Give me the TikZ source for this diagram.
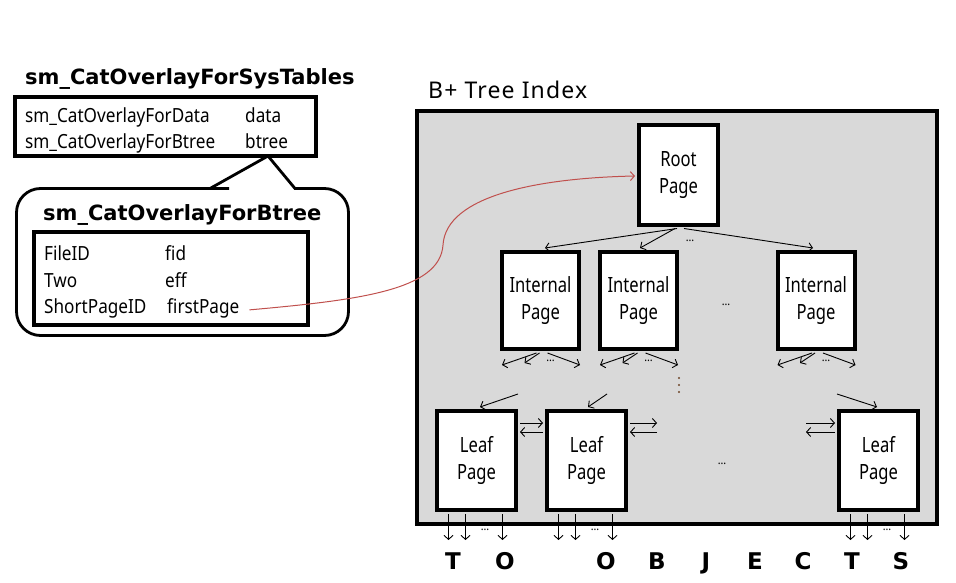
\documentclass[tikz,border=0pt]{standalone}
\usepackage{fontspec}
\setmainfont{Noto Sans}[FakeStretch=0.88]
\newfontfamily\widefont{Noto Sans}[LetterSpace=5]
\newfontfamily\pgfont{Noto Sans}[FakeStretch=0.79]
\newfontfamily\bfam{DejaVu Sans Bold}
\usetikzlibrary{arrows.meta,calc}
\definecolor{grayfill}{RGB}{217,217,217}
\definecolor{linkred}{RGB}{192,80,77}
\definecolor{dotbrown}{RGB}{110,70,40}
\tikzset{
  pg/.style={draw, line width=4pt, fill=white, inner sep=0pt, align=center,
    minimum width=79pt, minimum height=99pt, font=\pgfont\fontsize{21}{27.5}\selectfont},
  arr/.style={-{Straight Barb[length=4pt,width=9pt]}, line width=0.9pt},
  txt/.style={anchor=base west, inner sep=0pt, font=\fontsize{19.5}{22}\selectfont},
  ttl/.style={anchor=base west, inner sep=0pt, font=\bfam\fontsize{21}{24}\selectfont},
  lbl/.style={anchor=base, inner sep=0pt, font=\bfam\fontsize{23}{26}\selectfont},
  dts/.style={inner sep=0pt, font=\fontsize{12}{14}\selectfont},
  tbox/.style={draw, line width=4pt, fill=white, inner sep=0pt},
}
\begin{document}
\begin{tikzpicture}[x=1pt,y=-1pt]
\useasboundingbox (0,0) rectangle (956,583);

% ---------- left: catalog overlay ----------
\node[ttl] (t1) at (25,85) {sm\_CatOverlayForSysTables};

% callout
\draw[line width=2.8pt, fill=white] (210,188.5) -- (268,156) -- (295,188.5) -- (300,188.5)
  [rounded corners=24pt] -- (348.5,188.5) -- (348.5,335.5) -- (16.5,335.5) -- (16.5,188.5) -- (205,188.5)
  [sharp corners] -- (210,188.5) -- cycle;

\node[tbox, minimum width=301pt, minimum height=59pt] (box1) at (165.5,126.5) {};
\node[txt] (r1a) at (25,123) {sm\_CatOverlayForData};
\node[txt] (r1b) at (245,123) {data};
\node[txt] (r2a) at (25,149) {sm\_CatOverlayForBtree};
\node[txt] (r2b) at (245,149) {btree};

\node[ttl] (t2) at (43,220) {sm\_CatOverlayForBtree};
\node[tbox, minimum width=274pt, minimum height=93pt] (box2) at (171,278.5) {};
\node[txt] (f1a) at (44,260) {FileID};
\node[txt] (f1b) at (165,260) {fid};
\node[txt] (f2a) at (44,287) {Two};
\node[txt] (f2b) at (165,287) {eff};
\node[txt] (f3a) at (44,313) {ShortPageID};
\node[txt] (fp) at (167,313) {firstPage};

% ---------- right: B+ tree ----------
\node[anchor=base west, inner sep=0pt, font=\widefont\fontsize{23}{26}\selectfont] (bt) at (428,99) {B+ Tree Index};
\node[draw, line width=4pt, fill=grayfill, inner sep=0pt, minimum width=520pt, minimum height=413pt] (tree) at (677,317.5) {};

\node[pg] (root) at (678.5,175) {Root\\Page};
\node[pg, minimum width=77pt, minimum height=97pt] (i1) at (540.5,300.5) {Internal\\Page};
\node[pg, minimum width=77pt, minimum height=97pt] (i2) at (638.5,300.5) {Internal\\Page};
\node[pg, minimum width=77pt, minimum height=97pt] (i3) at (816,300.5) {Internal\\Page};
\node[pg] (l1) at (476.5,460.5) {Leaf\\Page};
\node[pg] (l2) at (586.5,460.5) {Leaf\\Page};
\node[pg] (l3) at (878.5,460.5) {Leaf\\Page};

% root -> internal
\draw[arr] ($(root.south)+(-1.5,2)$) -- ($(i1.north)+(4.5,-2)$);
\draw[arr] ($(root.south)+(-3.5,2)$) -- ($(i2.north)+(1.5,-2)$);
\draw[arr] ($(root.south)+(5.5,2)$) -- ($(i3.north)+(-3,-2)$);
\node[dts] (d0) at (690,241) {…};
\node[dts] (d1) at (726,305) {…};
\node[dts] (d2) at (722,464) {…};

% internal -> children
\foreach \i in {i1,i2,i3}{
  \draw[arr] ($(\i.south)+(-4,2)$) -- ++(-34.5,12);
  \draw[arr] ($(\i.south)+(-1,2)$) -- ++(-15,10);
  \draw[arr] ($(\i.south)+(7,2)$) -- ++(32.5,12);
  \node[dts] at ($(\i.south)+(10,10)$) {…};
}
\foreach \yy in {378,385,392} \fill[dotbrown] (679,\yy) circle (1.1pt);

% parents -> leaves
\draw[arr] ($(l1.north)+(41.5,-15)$) -- ($(l1.north)+(3.5,-2)$);
\draw[arr] ($(l2.north)+(20.5,-15)$) -- ($(l2.north)+(1.5,-2)$);
\draw[arr] ($(l3.north)+(-41.5,-15)$) -- ($(l3.north)+(-1.5,-2)$);

% sibling links
\draw[arr] ($(l1.east)+(2,-37.5)$) -- ($(l2.west)+(-2,-37.5)$);
\draw[arr] ($(l2.west)+(-2,-28.5)$) -- ($(l1.east)+(2,-28.5)$);
\draw[arr] ($(l2.east)+(2,-37.5)$) -- ++(27,0);
\draw[arr] ($(l2.east)+(29,-28.5)$) -- ++(-27,0);
\draw[arr] ($(l3.west)+(-31,-37.5)$) -- ++(29,0);
\draw[arr] ($(l3.west)+(-2,-28.5)$) -- ++(-29,0);

% leaves -> records
\foreach \l in {l1,l2,l3}{
  \foreach \dx in {-28,-11,26}
    \draw[arr] ($(\l.south)+(\dx,2)$) -- ++(0,26);
  \node[dts] at ($(\l.south)+(8.5,18)$) {…};
}

\node[lbl] (c1) at (453,569) {T};
\node[lbl] (c2) at (505,569) {O};
\node[lbl] (c3) at (606,569) {O};
\node[lbl] (c4) at (657,569) {B};
\node[lbl] (c5) at (706,569) {J};
\node[lbl] (c6) at (755,569) {E};
\node[lbl] (c7) at (803,569) {C};
\node[lbl] (c8) at (852,569) {T};
\node[lbl] (c9) at (901,569) {S};

% overlay link
\draw[linkred, line width=1pt, -{Straight Barb[length=4pt,width=9pt]}]
  ($(fp.east)+(10,2)$) .. controls (360,300) and (440,290) .. (443,245)
  .. controls (446,195) and (540,178) .. ($(root.west)+(-2,1)$);
\end{tikzpicture}
\end{document}
